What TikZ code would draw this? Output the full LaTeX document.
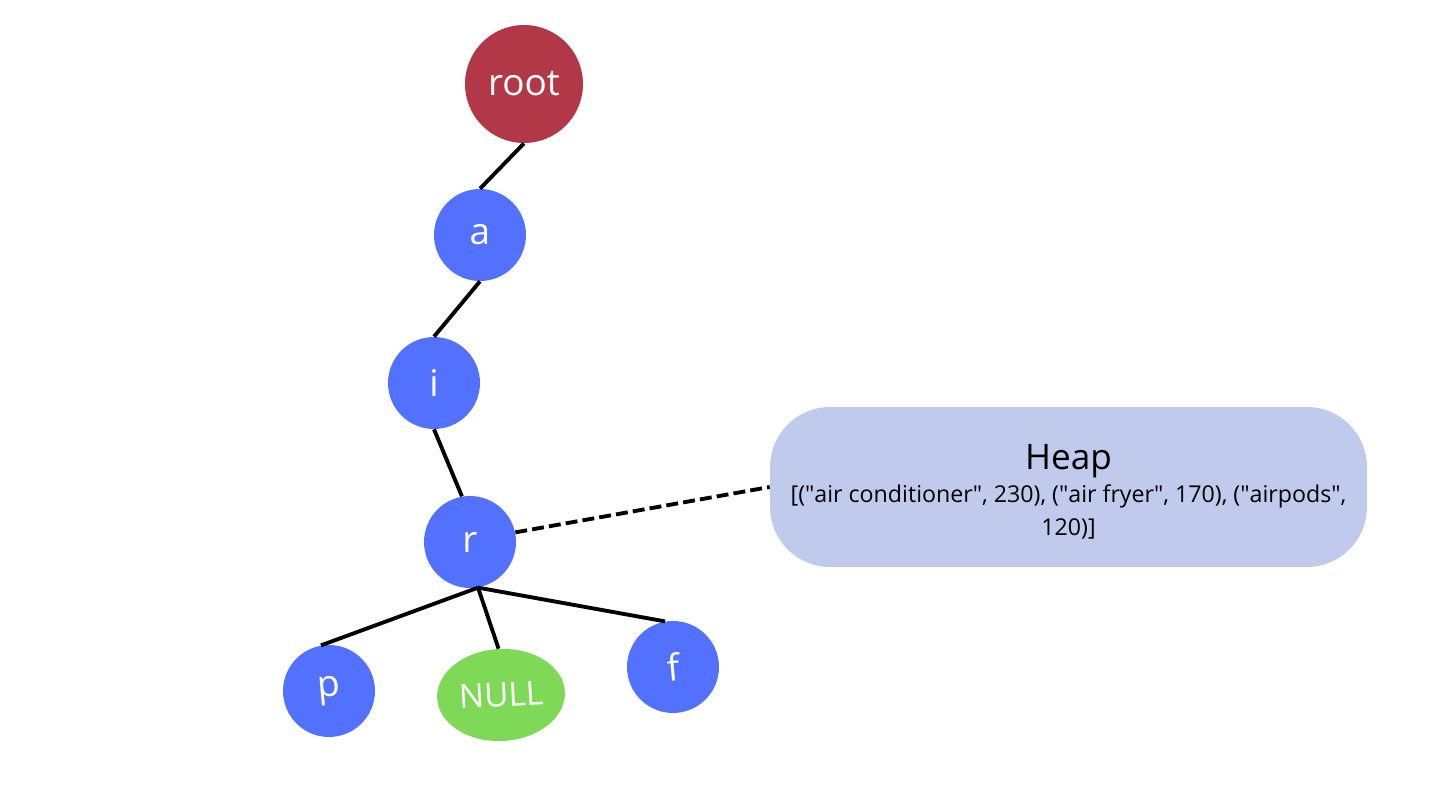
\documentclass[tikz,border=0pt]{standalone}
\usepackage{fontspec}
\setmainfont{Open Sans}
\usetikzlibrary{positioning, calc, shapes.geometric}
\definecolor{rootred}{HTML}{B23747}
\definecolor{trieblue}{HTML}{5271FF}
\definecolor{nullgreen}{HTML}{7ED957}
\definecolor{heapblue}{HTML}{C0CAEC}
\newcommand{\heaptitle}{\fontsize{20}{24}\selectfont}
\newcommand{\heapitems}{\fontsize{13.2}{16}\selectfont}
\newcommand{\qt}{\textquotedbl}
\tikzset{
    letter/.style={circle, fill=trieblue, text=white, minimum size=1.84cm, inner sep=0pt, font=\fontsize{21}{25}\selectfont},
    rootstate/.style={letter, fill=rootred, minimum size=2.36cm},
    nullstate/.style={ellipse, fill=nullgreen, text=white, minimum width=2.56cm, minimum height=1.84cm, inner sep=0pt, font=\fontsize{19}{23}\selectfont},
    heap/.style={rounded corners=1.2cm, fill=heapblue, minimum width=11.94cm, minimum height=3.2cm, align=center, inner sep=0pt},
    link/.style={line width=2.2pt},
    pointer/.style={line width=2.2pt, dash pattern=on 6.8pt off 2.9pt}
}

\begin{document}
\begin{tikzpicture}[x=0.02cm, y=-0.02cm]
    \useasboundingbox (0,0) rectangle (1444,800);

    \node[rootstate] (root) at (524,84) {root};
    \node[letter] (a) at (480,235) {a};
    \node[letter] (i) at (434,383) {i};
    \node[letter] (r) at (470,542) {r};
    \node[letter, rotate=5] (p) at (329,691) {p};
    \node[nullstate, rotate=3] (null) at (501,695) {NULL};
    \node[letter, rotate=5] (f) at (673,667) {f};
    \node[heap] (heap) at (1068.5,487)
        {\heaptitle\rule{0pt}{20pt}Heap\\[3pt]
         \heapitems [(\qt air conditioner\qt, 230), (\qt air fryer\qt, 170), (\qt airpods\qt,\\[5pt]
         \heapitems 120)]};

    \draw[link]
        (root.south) edge (a.north)
        (a.south) edge (i.north)
        (i.south) edge (r.100)
        (r.-80) edge (p.95)
        (r.-80) edge (null.north)
        (r.-80) edge (f.95)
        ;
    \draw[pointer] (r.12) -- (heap.west);
\end{tikzpicture}
\end{document}
